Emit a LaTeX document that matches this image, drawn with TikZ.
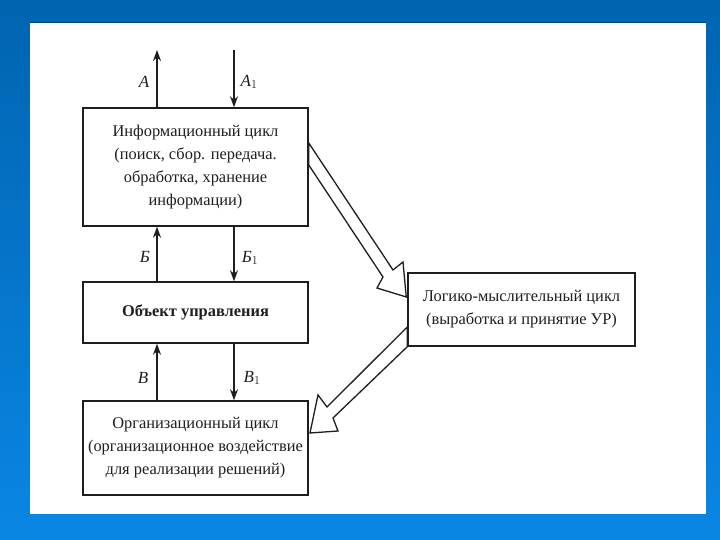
\documentclass[tikz,border=0pt]{standalone}
\usepackage{fontspec}
\setmainfont{Liberation Serif}
\usetikzlibrary{arrows.meta,calc}
\definecolor{bgtop}{HTML}{0064B0}
\definecolor{bgbot}{HTML}{0A86E4}
\definecolor{ink}{HTML}{1E1E1E}
\tikzset{
  box/.style={draw=ink,line width=1.5pt,fill=white,minimum width=225pt,align=center,
    font=\fontsize{16.4}{23}\selectfont,text=ink,inner sep=2pt},
  arr/.style={draw=ink,line width=1.4pt,-{Stealth[length=11pt,width=8pt]}},
  lbl/.style={font=\fontsize{17}{20}\selectfont\itshape,text=ink,inner sep=0pt},
  hollow/.style={draw=ink,line width=1.3pt,fill=white,line join=miter}
}
\begin{document}
\begin{tikzpicture}[x=1pt,y=-1pt]
\useasboundingbox (0,0) rectangle (720,540);
\shade[top color=bgtop,bottom color=bgbot] (0,0) rectangle (720,540);
\fill[white] (30,22) rectangle (706,514);
\draw[bgtop!70!black,line width=1.5pt] (30,22.5) -- (706,22.5);
% boxes
\node[box,minimum height=118pt] (info) at (195.5,167)
  {Информационный цикл\\(поиск, сбор. передача.\\обработка, хранение\\информации)};
\node[box,minimum height=61pt,font=\fontsize{16.4}{23}\selectfont\bfseries] (obj) at (195.5,312.5)
  {Объект управления};
\node[box,minimum height=94pt] (org) at (195.5,448)
  {Организационный цикл\\(организационное воздействие\\для реализации решений)};
\node[box,minimum width=227pt,minimum height=73pt] (logic) at (521.5,309.5)
  {Логико-мыслительный цикл\\(выработка и принятие УР)};
% free ends
\coordinate (up) at (157,50);
\coordinate (dn) at (234,50);
% thin arrows
\draw[arr] (info.north -| up) -- (up);
\draw[arr] (dn) -- (info.north -| dn);
\draw[arr] (obj.north -| up) -- (info.south -| up);
\draw[arr] (info.south -| dn) -- (obj.north -| dn);
\draw[arr] (org.north -| up) -- (obj.south -| up);
\draw[arr] (obj.south -| dn) -- (org.north -| dn);
% labels
\node[lbl] (la) at (144,82) {A};
\node[lbl] (la1) at (249,82) {A$_1$};
\node[lbl] (lb) at (145,257) {Б};
\node[lbl] (lb1) at (250,258) {Б$_1$};
\node[lbl] (lv) at (143,378) {В};
\node[lbl] (lv1) at (252,378) {В$_1$};
% hollow arrows
\draw[hollow] ($(info.east)+(0,-24)$) -- (393,270) -- (403,262) -- ($(logic.west)+(-1,-12.5)$)
  -- (377,288) -- (383,277) -- ($(info.east)+(0,-2)$) -- cycle;
\draw[hollow] ($(logic.west)+(0,17.5)$) -- (327,407) -- (318,395) -- (310,433)
  -- (338,431) -- (333,418) -- (logic.south west) -- cycle;
\end{tikzpicture}
\end{document}
